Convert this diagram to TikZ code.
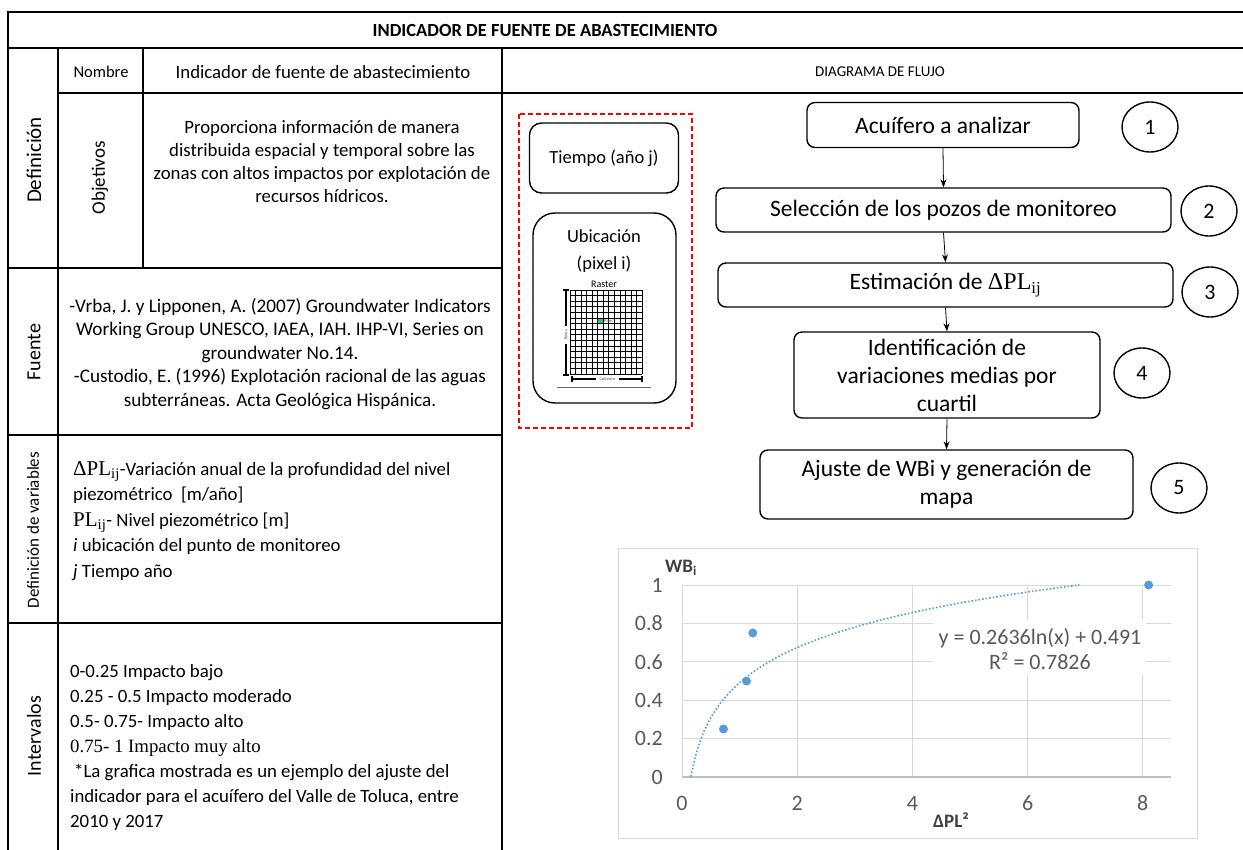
\documentclass[tikz,border=0pt]{standalone}
\usepackage[no-math]{fontspec}
\setmainfont{Carlito}
\newfontfamily\timesfont{Liberation Serif}
\usetikzlibrary{shapes.geometric,arrows.meta}

\definecolor{dotblue}{HTML}{5B9BD5}
\definecolor{gridgray}{HTML}{D9D9D9}
\definecolor{axisgray}{HTML}{BFBFBF}
\definecolor{ticktext}{HTML}{595959}
\definecolor{eqtext}{HTML}{404040}
\definecolor{pixelgreen}{HTML}{22CC66}

% serif symbol for the annual change of the piezometric level
\newcommand{\dpl}[1][21]{{\fontsize{#1}{25}\timesfont ΔPL\textsubscript{ij}}}
\newcommand{\plij}[1][21]{{\fontsize{#1}{25}\timesfont PL\textsubscript{ij}}}

\tikzset{
  tline/.style={line width=1.6pt, black},
  bodytext/.style={font=\fontsize{18.8}{23}\selectfont, inner sep=0pt},
  sidelabel/.style={rotate=90, inner sep=0pt},
  flowbox/.style={draw, line width=1.4pt, rounded corners=8pt, align=center,
    inner sep=0pt, font=\fontsize{23.5}{28}\selectfont},
  stepnum/.style={draw, ellipse, line width=1.4pt, minimum width=56pt,
    minimum height=50pt, inner sep=0pt, font=\fontsize{22}{26}\selectfont},
  flowarrow/.style={-{Stealth[length=8pt,width=6pt]}, line width=0.8pt},
  inputbox/.style={draw, line width=1.4pt, inner sep=0pt},
  gridline/.style={gridgray, line width=1pt},
  ticklabel/.style={text=ticktext, inner sep=0pt, font=\fontsize{22}{26}\selectfont},
  datapoint/.style={circle, fill=dotblue, inner sep=0pt, minimum size=9pt},
  bracket/.style={line width=2pt, black},
  tiny/.style={inner sep=0pt, text=black!70, font=\fontsize{4.5}{5}\selectfont}
}

\begin{document}
\begin{tikzpicture}[x=1pt,y=-1pt]
\useasboundingbox (0,0) rectangle (1243,850);

% ---------- table frame ----------
\draw[tline] (8,850) -- (8,12) -- (1243,12);
\draw[tline] (8,48) -- (1243,48);
\draw[tline] (58,93) -- (1243,93);
\draw[tline] (58,48) -- (58,850);
\draw[tline] (143,48) -- (143,268);
\draw[tline] (502,48) -- (502,850);
\draw[tline] (8,268) -- (502,268);
\draw[tline] (8,435) -- (502,435);
\draw[tline] (8,623) -- (502,623);

\node[font=\bfseries\fontsize{18.5}{22}\selectfont, inner sep=0pt] (title) at (545,31)
  {INDICADOR DE FUENTE DE ABASTECIMIENTO};

% ---------- left column labels ----------
\node[sidelabel, font=\fontsize{21}{24}\selectfont] (ldef) at (34,160) {Definición};
\node[sidelabel, font=\fontsize{19}{22}\selectfont] (lobj) at (100,178) {Objetivos};
\node[sidelabel, font=\fontsize{20}{24}\selectfont] (lfue) at (34,352) {Fuente};
\node[sidelabel, font=\fontsize{17}{20}\selectfont] (lvar) at (33,530) {Definición de variables};
\node[sidelabel, font=\fontsize{20}{24}\selectfont] (lint) at (34,736) {Intervalos};

% ---------- table contents ----------
\node[inner sep=0pt, font=\fontsize{16.5}{20}\selectfont] (nombre) at (101,72) {Nombre};
\node[bodytext] (nomtxt) at (323,72) {Indicador de fuente de abastecimiento};

\node[bodytext, align=center] (objtxt) at (322,162)
  {Proporciona información de manera\\
   distribuida espacial y temporal sobre las\\
   zonas con altos impactos por explotación de\\
   recursos hídricos.};

\node[bodytext, font=\fontsize{19.2}{23.5}\selectfont, align=center] (fuetxt) at (280,354)
  {-Vrba, J. y Lipponen, A. (2007) Groundwater Indicators\\
   Working Group UNESCO, IAEA, IAH. IHP-VI, Series on\\
   groundwater No.14.\\
   -Custodio, E. (1996) Explotación racional de las aguas\\
   subterráneas. Acta Geológica Hispánica.};

\node[bodytext, font=\fontsize{18.8}{25.5}\selectfont, align=left, anchor=west] (vartxt) at (73,521)
  {\dpl-Variación anual de la profundidad del nivel\\
   piezométrico\ \ [m/año]\\
   \plij- Nivel piezométrico [m]\\
   \textit{i} ubicación del punto de monitoreo\\
   \textit{j} Tiempo año};

\node[bodytext, font=\fontsize{18.8}{25}\selectfont, align=left, anchor=west] (inttxt) at (70,747)
  {0-0.25 Impacto bajo\\
   0.25 - 0.5 Impacto moderado\\
   0.5- 0.75- Impacto alto\\
   {\timesfont 0.75- 1 Impacto muy alto}\\
   \hspace*{4pt}*La grafica mostrada es un ejemplo del ajuste del\\
   indicador para el acuífero del Valle de Toluca, entre\\
   2010 y 2017};

% ---------- flow diagram ----------
\node[inner sep=0pt, font=\fontsize{15}{18}\selectfont] (dflujo) at (880,72) {DIAGRAMA DE FLUJO};

\draw[red, dashed, line width=1.3pt, dash pattern=on 5pt off 3pt] (519,114) rectangle (692,428);

\node[inputbox, rounded corners=12pt, minimum width=149pt, minimum height=70pt,
      font=\fontsize{18.5}{22}\selectfont] (tiempo) at (604,158) {Tiempo (año j)};
\node[inputbox, rounded corners=22pt, minimum width=143pt, minimum height=190pt] (ubic) at (604.5,308) {};
\node[inner sep=0pt, font=\fontsize{18.5}{27}\selectfont, align=center] (ubictxt) at (604,251.5)
  {Ubicación\\(pixel i)};

% raster sketch
\node[inner sep=0pt, font=\fontsize{10}{12}\selectfont] (raster) at (604,284) {Raster};
\fill[pixelgreen] (597.7,318.2) rectangle (603.2,323.8);
\foreach \i in {0,...,13} \draw[line width=0.6pt] ({570+\i*72/13},290) -- ({570+\i*72/13},374);
\foreach \j in {0,...,15} \draw[line width=0.6pt] (570,{290+\j*5.6}) -- (642,{290+\j*5.6});
\node[tiny, anchor=west] (pixlbl) at (604,321) {Pixel};
\draw[bracket] (566,290) -- (566,326) (566,344) -- (566,375);
\draw[bracket] (563,290) -- (569,290) (563,375) -- (569,375);
\node[tiny, rotate=90] (rowlbl) at (566,335) {Rows};
\draw[bracket] (572,379) -- (596,379) (619,379) -- (642,379);
\draw[bracket] (572,376) -- (572,382) (642,376) -- (642,382);
\node[tiny] (collbl) at (607.5,379) {Columns};
\draw[black!60, line width=0.8pt] (557,387) -- (651,387);

% steps
\node[flowbox, minimum width=272pt, minimum height=45pt] (b1) at (943,125) {Acuífero a analizar};
\node[flowbox, minimum width=455pt, minimum height=44pt] (b2) at (943.5,210) {Selección de los pozos de monitoreo};
\node[flowbox, minimum width=455pt, minimum height=44pt] (b3) at (945.5,285)
  {Estimación de \dpl[24]};
\node[flowbox, minimum width=306pt, minimum height=86pt] (b4) at (947,375)
  {Identificación de\\variaciones medias por\\cuartil};
\node[flowbox, minimum width=373pt, minimum height=69pt] (b5) at (946.5,484.5)
  {Ajuste de WBi y generación de\\mapa};

\draw[flowarrow] (b1.south) -- (b2.north);
\draw[flowarrow] (b2.south) -- (b3.north);
\draw[flowarrow] (b3.south) -- (b4.north);
\draw[flowarrow] (b4.south) -- (b5.north);

\node[stepnum] (n1) at (1150,127) {1};
\node[stepnum] (n2) at (1209,211) {2};
\node[stepnum] (n3) at (1210,292) {3};
\node[stepnum] (n4) at (1142,373) {4};
\node[stepnum] (n5) at (1179,488) {5};

% ---------- example chart ----------
\draw[gridgray, line width=1pt] (618,548) rectangle (1197,838);
\foreach \w in {0.2,0.4,0.6,0.8,1.0}
  \draw[gridline] (682,{777-192*\w}) -- (1171,{777-192*\w});
\foreach \v in {0,2,4,6,8}
  \draw[gridline] ({682+57.6*\v},585) -- ({682+57.6*\v},777);
\draw[axisgray, line width=1.2pt] (682,777) -- (1171,777);

\fill[white] (933,620) rectangle (1146,675);
\node[inner sep=0pt, text=ticktext, font=\fontsize{22}{25}\selectfont, align=center] (eq) at (1040,649.5)
  {y = 0.2636ln(x) + 0.491\\R² = 0.7826};

\draw[dotblue, line width=1.6pt, dash pattern=on 1.6pt off 2pt]
  plot[domain=0.155:6.9, samples=90, smooth] ({682+57.6*\x}, {777-192*(0.2636*ln(\x)+0.491)});

\node[datapoint] (p1) at (723.5,729) {};
\node[datapoint] (p2) at (746.5,681) {};
\node[datapoint] (p3) at (752.8,633) {};
\node[datapoint] (p4) at (1148.6,585) {};

\foreach \w/\t in {0/0,0.2/0.2,0.4/0.4,0.6/0.6,0.8/0.8,1/1}
  \node[ticklabel, anchor=east] at (663,{777-192*\w}) {\t};
\foreach \v in {0,2,4,6,8}
  \node[ticklabel] at ({682+57.6*\v},803) {\v};

\node[inner sep=0pt, text=eqtext, font=\bfseries\fontsize{19}{22}\selectfont] (ylab) at (681,568) {WB\textsubscript{i}};
\node[inner sep=0pt, text=eqtext, font=\bfseries\fontsize{19}{22}\selectfont] (xlab) at (951,820) {ΔPL²};

\end{tikzpicture}
\end{document}
